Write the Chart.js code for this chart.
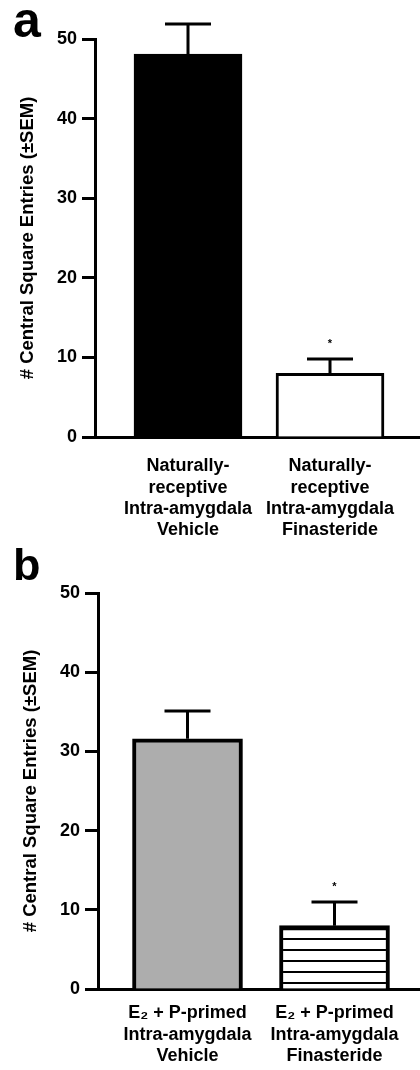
<!DOCTYPE html>
<html><head><meta charset="utf-8">
<script src="https://cdn.jsdelivr.net/npm/chart.js@4.4.1/dist/chart.umd.min.js"></script>
<style>
html,body{margin:0;padding:0;background:#fff}
body{width:420px;height:1070px;position:relative;overflow:hidden;font-family:'Liberation Sans',Arial,sans-serif}
.panel{position:absolute;left:0;width:420px}
.letter{position:absolute;font-weight:bold;color:#000}
</style></head><body>
<div class="panel" style="top:0;height:540px"><canvas id="ca" width="420" height="540"></canvas></div>
<div class="panel" style="top:540px;height:530px"><canvas id="cb" width="420" height="530"></canvas></div>
<div class="letter" style="left:13px;top:-5px;font-size:50px;line-height:50px">a</div>
<div class="letter" style="left:13px;top:542px;font-size:45px;line-height:45px">b</div>
<script>
// ---- data ----
const labelsA = [["Naturally-","receptive","Intra-amygdala","Vehicle"],["Naturally-","receptive","Intra-amygdala","Finasteride"]];
const meansA = [48.1, 8.0];
const semA = [3.8, 1.8];
const sigA = [false, true];

const labelsB = [["E\u2082 + P-primed","Intra-amygdala","Vehicle"],["E\u2082 + P-primed","Intra-amygdala","Finasteride"]];
const meansB = [31.6, 8.0];
const semB = [3.5, 3.0];
const sigB = [false, true];

const yTicks = [0, 10, 20, 30, 40, 50];
const yTitle = "# Central Square Entries (\u00B1SEM)";

// ---- styles ----
const FONT = "'Liberation Sans', Arial, sans-serif";

function hatchPattern(ctx) {
  const c = document.createElement('canvas');
  c.width = 8; c.height = 11;
  const g = c.getContext('2d');
  g.fillStyle = '#fff'; g.fillRect(0, 0, 8, 11);
  g.fillStyle = '#000'; g.fillRect(0, 2, 8, 2);
  return ctx.createPattern(c, 'repeat');
}

const errorBarPlugin = {
  id: 'errorBars',
  afterDatasetsDraw(chart, args, opts) {
    const {ctx, scales: {x, y}} = chart;
    ctx.save();
    ctx.strokeStyle = '#000';
    ctx.lineWidth = 3;
    opts.means.forEach((m, i) => {
      const px = x.getPixelForValue(i);
      const yb = y.getPixelForValue(m);
      const yt = y.getPixelForValue(m + opts.sems[i]);
      ctx.beginPath();
      ctx.moveTo(px, yb); ctx.lineTo(px, yt);
      ctx.moveTo(px - 23, yt); ctx.lineTo(px + 23, yt);
      ctx.stroke();
      if (opts.sig[i]) {
        ctx.fillStyle = '#000';
        ctx.font = 'bold 11px ' + FONT;
        ctx.textAlign = 'center';
        ctx.textBaseline = 'middle';
        ctx.fillText('*', px, yt - 15);
      }
    });
    ctx.restore();
  }
};

function makeChart(id, labels, means, sems, sig, fills, geo) {
  const canvas = document.getElementById(id);
  const ctx = canvas.getContext('2d');
  const bg = fills.map(f => f === 'hatch' ? hatchPattern(ctx) : f);
  const spacing = geo.c2 - geo.c1;
  const xmin = -(geo.c1 - geo.left) / spacing;
  const xmax = 1 + (420 - geo.c2) / spacing;
  return new Chart(ctx, {
    type: 'bar',
    data: {
      datasets: [{
        data: means.map((v, i) => ({x: i, y: v})),
        backgroundColor: bg,
        borderColor: '#000',
        borderWidth: geo.bw,
        borderSkipped: 'bottom',
        barThickness: geo.barW
      }]
    },
    options: {
      responsive: false,
      animation: false,
      devicePixelRatio: 1,
      layout: {padding: {top: geo.top, right: 0, bottom: 0, left: 0}},
      plugins: {
        legend: {display: false},
        tooltip: {enabled: false},
        errorBars: {means, sems, sig}
      },
      scales: {
        x: {
          type: 'linear',
          offset: false,
          bounds: 'data',
          min: xmin, max: xmax,
          grid: {display: false},
          border: {display: true, color: '#000', width: 3},
          afterBuildTicks: s => { s.ticks = labels.map((_, i) => ({value: i})); },
          afterFit: s => { s.height = geo.xh; },
          ticks: {
            callback: v => labels[v],
            color: '#000',
            font: {family: FONT, size: 18, weight: 'bold', lineHeight: 1.17},
            padding: geo.xpad,
            maxRotation: 0, minRotation: 0, autoSkip: false
          }
        },
        y: {
          min: 0, max: 50,
          afterBuildTicks: s => { s.ticks = yTicks.map(v => ({value: v})); },
          afterFit: s => { s.width = geo.left; },
          grid: {display: true, drawOnChartArea: false, drawTicks: true, tickLength: 13, tickWidth: 3, tickColor: '#000'},
          border: {display: true, color: '#000', width: 3},
          ticks: {
            color: '#000',
            font: {family: FONT, size: 18, weight: 'bold'},
            padding: 5
          },
          title: {
            display: true,
            text: yTitle,
            color: '#000',
            font: {family: FONT, size: 18.5, weight: 'bold'},
            padding: {top: geo.tpad, bottom: 0}
          }
        }
      }
    },
    plugins: [errorBarPlugin]
  });
}

makeChart('ca', labelsA, meansA, semA, sigA, ['#000', '#fff'],
  {left: 95, top: 39, xh: 103, c1: 188, c2: 330, barW: 108, bw: 3, xpad: 11, tpad: 17});
makeChart('cb', labelsB, meansB, semB, sigB, ['#adadad', 'hatch'],
  {left: 98, top: 53, xh: 81, c1: 187.5, c2: 334.5, barW: 110,
   bw: [4, {top: 5, left: 4, right: 4, bottom: 0}], xpad: 6, tpad: 20});
</script>
</body></html>
